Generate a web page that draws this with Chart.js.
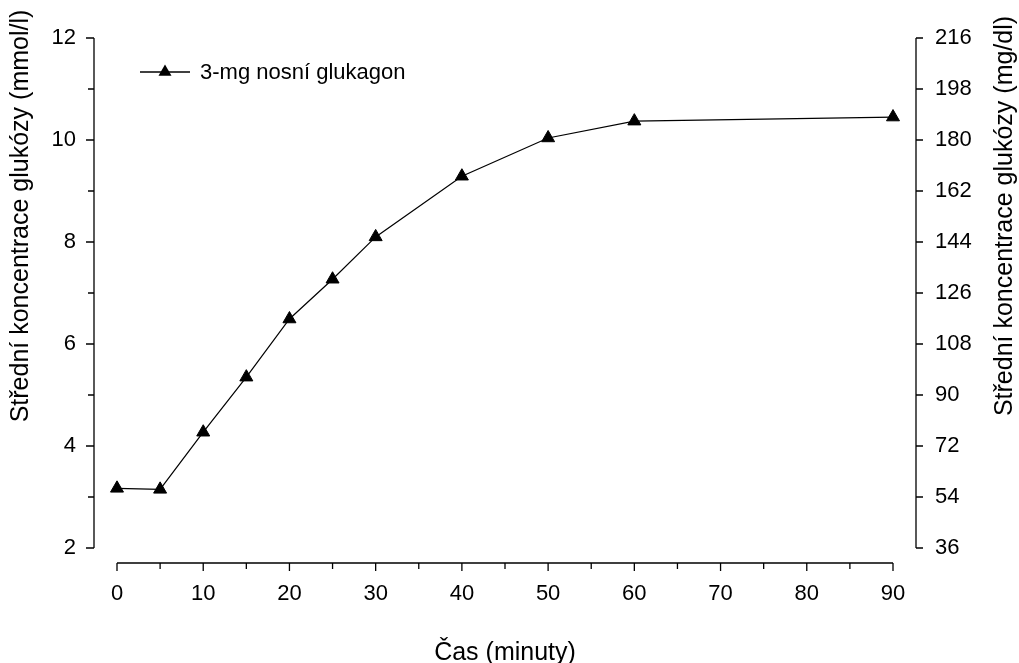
<!DOCTYPE html>
<html>
<head>
<meta charset="utf-8">
<script src="https://cdn.jsdelivr.net/npm/chart.js@4"></script>
<style>
  html, body { margin: 0; padding: 0; background: #fff; }
  #wrap { position: relative; width: 1019px; height: 663px; }
</style>
</head>
<body>
<div id="wrap"><canvas id="chart"></canvas></div>
<script>
// time after dose (minutes) and mean glucose (mmol/l)
const times = [0, 5, 10, 15, 20, 25, 30, 40, 50, 60, 90];
const glucose = [3.17, 3.15, 4.27, 5.35, 6.49, 7.27, 8.1, 9.29, 10.04, 10.37, 10.45];
const seriesLabel = "3-mg nosní glukagon";
const xTitle = "Čas (minuty)";
const yTitle = "Střední koncentrace glukózy (mmol/l)";
const y2Title = "Střední koncentrace glukózy (mg/dl)";

const FONT = "'Liberation Sans', Arial, sans-serif";

// SigmaPlot style axes: drawn detached from the plot area
const offsetAxes = {
  id: "offsetAxes",
  afterDraw(chart) {
    const { ctx, chartArea, scales } = chart;
    const x = scales.x, y = scales.y, y2 = scales.y2;
    ctx.save();
    ctx.strokeStyle = "#000";
    ctx.lineWidth = 1.3;

    // left axis
    const lx = chartArea.left - 23;
    ctx.beginPath();
    ctx.moveTo(lx, y.getPixelForValue(12));
    ctx.lineTo(lx, y.getPixelForValue(2));
    for (let v = 2; v <= 12; v++) {
      const py = y.getPixelForValue(v);
      ctx.moveTo(lx, py);
      ctx.lineTo(lx - (v % 2 === 0 ? 8 : 6), py);
    }
    ctx.stroke();

    // right axis
    const rx = chartArea.right + 23;
    ctx.beginPath();
    ctx.moveTo(rx, y2.getPixelForValue(216));
    ctx.lineTo(rx, y2.getPixelForValue(36));
    for (let v = 36; v <= 216; v += 18) {
      const py = y2.getPixelForValue(v);
      ctx.moveTo(rx, py);
      ctx.lineTo(rx + 7, py);
    }
    ctx.stroke();

    // bottom axis
    const by = chartArea.bottom + 15;
    ctx.beginPath();
    ctx.moveTo(x.getPixelForValue(0), by);
    ctx.lineTo(x.getPixelForValue(90), by);
    for (let v = 0; v <= 90; v += 5) {
      const px = x.getPixelForValue(v);
      ctx.moveTo(px, by);
      ctx.lineTo(px, by + (v % 10 === 0 ? 8 : 6));
    }
    ctx.stroke();

    // vertical axis titles, both reading bottom to top
    ctx.fillStyle = "#000";
    ctx.font = "25px " + FONT;
    ctx.textAlign = "center";
    ctx.textBaseline = "middle";
    [[21, yTitle], [1005, y2Title]].forEach(([tx, text]) => {
      ctx.save();
      ctx.translate(tx, 216);
      ctx.rotate(-Math.PI / 2);
      ctx.fillText(text, 0, 0);
      ctx.restore();
    });

    // legend
    const ly = 72;
    ctx.beginPath();
    ctx.moveTo(140, ly);
    ctx.lineTo(190, ly);
    ctx.stroke();
    const r = 7.5;
    ctx.beginPath();
    ctx.moveTo(165, ly - r);
    ctx.lineTo(165 + r * 0.866, ly + r / 2);
    ctx.lineTo(165 - r * 0.866, ly + r / 2);
    ctx.closePath();
    ctx.fill();
    ctx.font = "22px " + FONT;
    ctx.textAlign = "left";
    ctx.fillText(chart.data.datasets[0].label, 200, ly + 1);
    ctx.restore();
  }
};

const tickFont = { family: FONT, size: 22 };
const titleFont = { family: FONT, size: 25, lineHeight: 0.8 };

// tick padding also pads the plot area in Chart.js; drop that
const noScalePad = (s) => {
  s.paddingTop = 0;
  s.paddingBottom = 0;
  s.paddingLeft = 0;
  s.paddingRight = 0;
};

new Chart(document.getElementById("chart"), {
  type: "line",
  data: {
    datasets: [
      {
        label: seriesLabel,
        data: times.map((t, i) => ({ x: t, y: glucose[i] })),
        borderColor: "#000",
        borderWidth: 1.2,
        backgroundColor: "#000",
        pointStyle: "triangle",
        pointRadius: 7.5,
        pointBorderWidth: 1,
        pointBackgroundColor: "#000",
        tension: 0,
        fill: false,
        clip: false,
      },
    ],
  },
  options: {
    responsive: true,
    maintainAspectRatio: false,
    animation: false,
    layout: { padding: { top: 38, left: 0, right: 0, bottom: 0 } },
    plugins: {
      legend: { display: false },
      tooltip: { enabled: false },
    },
    scales: {
      x: {
        type: "linear",
        min: 0,
        max: 90,
        grid: { display: false, drawTicks: false },
        border: { display: false },
        ticks: { stepSize: 10, padding: 33, color: "#000", font: tickFont, maxRotation: 0 },
        title: { display: true, text: xTitle, color: "#000", font: titleFont, padding: 0 },
        afterFit: (s) => { noScalePad(s); s.height = 115; },
      },
      y: {
        position: "left",
        min: 2,
        max: 12,
        grid: { display: false, drawTicks: false },
        border: { display: false },
        ticks: { stepSize: 2, padding: 41, color: "#000", font: tickFont },
        title: { display: false, text: yTitle },
        afterFit: (s) => { noScalePad(s); s.width = 117; },
      },
      y2: {
        position: "right",
        min: 36,
        max: 216,
        grid: { display: false, drawTicks: false },
        border: { display: false },
        ticks: { stepSize: 18, padding: 42, color: "#000", font: tickFont },
        title: { display: false, text: y2Title },
        afterFit: (s) => { noScalePad(s); s.width = 126; },
      },
    },
  },
  plugins: [offsetAxes],
});
</script>
</body>
</html>
